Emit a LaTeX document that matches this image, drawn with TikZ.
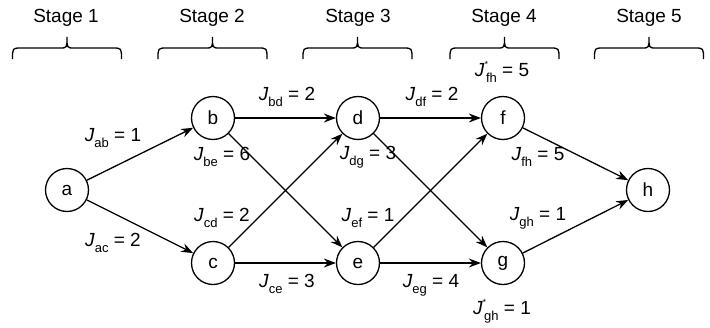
\documentclass[tikz,border=0pt]{standalone}
\usepackage{fontspec}
\setmainfont{Liberation Sans}
\usetikzlibrary{arrows.meta}
\newcommand{\Jl}[2]{\textit{J}\raisebox{-0.3em}{\fontsize{13}{13}\selectfont #1} = #2}
\newcommand{\Js}[2]{\textit{J}\rlap{\raisebox{0.5em}{\fontsize{9}{9}\selectfont *}}\hspace{1.5pt}\raisebox{-0.3em}{\fontsize{13}{13}\selectfont #1} = #2}
\newcommand{\stagebrace}[1]{%
  \draw[bracestyle] (#1-54.5,59) .. controls (#1-54.5,48) .. (#1-45.5,48) -- (#1-7,48)
    .. controls (#1,48) .. (#1,37) .. controls (#1,48) .. (#1+7,48) -- (#1+45.5,48)
    .. controls (#1+54.5,48) .. (#1+54.5,59);}
\begin{document}
\begin{tikzpicture}[x=1pt,y=-1pt,
  every node/.style={font=\fontsize{19}{22}\selectfont},
  state/.style={circle,draw,line width=1.3pt,minimum size=43pt,inner sep=0pt},
  edge/.style={line width=1.3pt,-{Stealth[length=12pt,width=9pt,inset=4pt]}},
  bracestyle/.style={line width=1.3pt},
  lbl/.style={inner sep=0pt}]
\useasboundingbox (0,0) rectangle (710,327);
\node (s1) at (66,18) {Stage 1};
\node (s2) at (212,18) {Stage 2};
\node (s3) at (358,18) {Stage 3};
\node (s4) at (504,18) {Stage 4};
\node (s5) at (649,18) {Stage 5};
\stagebrace{67}
\stagebrace{212.5}
\stagebrace{357.5}
\stagebrace{504.5}
\stagebrace{649}
\node[state] (a) at (67,190) {a};
\node[state] (b) at (213,118) {b};
\node[state] (c) at (213,263) {c};
\node[state] (d) at (358,118) {d};
\node[state] (e) at (358,263) {e};
\node[state] (f) at (503,118) {f};
\node[state] (g) at (503,263) {g};
\node[state] (h) at (648,190) {h};
\draw[edge] (a) -- (b);
\draw[edge] (a) -- (c);
\draw[edge] (b) -- (d);
\draw[edge] (b) -- (e);
\draw[edge] (c) -- (d);
\draw[edge] (c) -- (e);
\draw[edge] (d) -- (f);
\draw[edge] (d) -- (g);
\draw[edge] (e) -- (f);
\draw[edge] (e) -- (g);
\draw[edge] (f) -- (h);
\draw[edge] (g) -- (h);
\node[lbl] (lab) at (113,138) {\Jl{ab}{1}};
\node[lbl] (lac) at (113,243) {\Jl{ac}{2}};
\node[lbl] (lbd) at (287,97) {\Jl{bd}{2}};
\node[lbl] (lbe) at (222,157) {\Jl{be}{6}};
\node[lbl] (lcd) at (222,218) {\Jl{cd}{2}};
\node[lbl] (lce) at (287,284) {\Jl{ce}{3}};
\node[lbl] (ldf) at (432,97) {\Jl{df}{2}};
\node[lbl] (ldg) at (368,157) {\Jl{dg}{3}};
\node[lbl] (lef) at (368,218) {\Jl{ef}{1}};
\node[lbl] (leg) at (431,285) {\Jl{eg}{4}};
\node[lbl] (lfh) at (538,157) {\Jl{fh}{5}};
\node[lbl] (lgh) at (538,218) {\Jl{gh}{1}};
\node[lbl] (sfh) at (502,72) {\Js{fh}{5}};
\node[lbl] (sgh) at (502,311) {\Js{gh}{1}};
\end{tikzpicture}
\end{document}
